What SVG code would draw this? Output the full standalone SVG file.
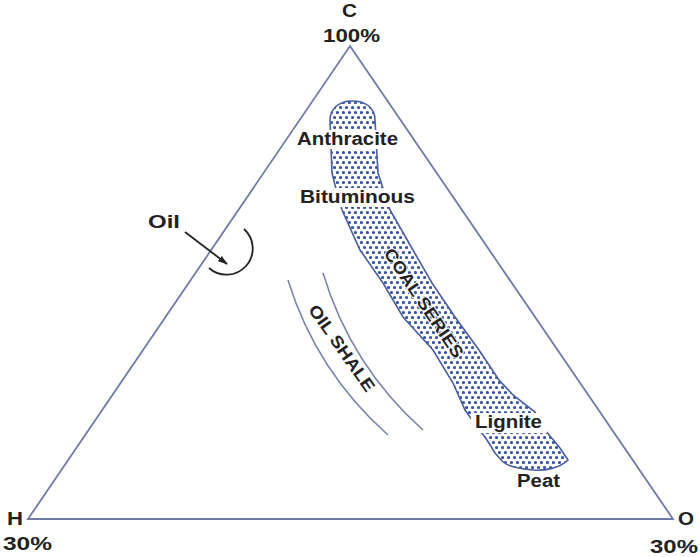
<svg xmlns="http://www.w3.org/2000/svg" width="700" height="557" viewBox="0 0 700 557">
<style>
.lbl{font-family:"Liberation Sans",Arial,sans-serif;font-weight:bold;fill:#222;font-size:18px}
.rot{font-family:"Liberation Sans",Arial,sans-serif;font-weight:bold;fill:#222;font-size:17px;stroke:#fff;stroke-width:2;paint-order:stroke;stroke-linejoin:round}
.edge{fill:none;stroke:#6f7ba6;stroke-width:1.8}
.thin{fill:none;stroke:#7b86ad;stroke-width:1.6}
</style>
<defs>
<pattern id="dots" width="6" height="10" patternUnits="userSpaceOnUse">
<rect width="6" height="10" fill="#fff"/>
<circle cx="1.5" cy="2.5" r="1.6" fill="#3a54a3"/>
<circle cx="4.5" cy="7.5" r="1.6" fill="#3a54a3"/>
</pattern>
<marker id="ah" markerWidth="10" markerHeight="8" refX="9" refY="4" orient="auto" markerUnits="userSpaceOnUse">
<path d="M0,0.8 L10,4 L0,7.2 Z" fill="#222"/>
</marker>
</defs>
<rect width="700" height="557" fill="#fff"/>
<g id="triangle">
<path class="edge" d="M350,46 L673,519 L28,519 Z"/>
</g>
<g id="coal-series">
<path d="M330,120 C330,108 340,101 352,101 C366,101 375,108 375,120 L378,173 L382,185 L390,210 L413,250 L432,283 L455,317 L479,350 L499,380 L513,395 L535,412 L545,430 L560,448 L568,460 C560,468 545,471 533,470 C520,469 508,466 503,462 L495,453 L487,440 L478,428 L465,410 L453,383 L433,350 L403,317 L383,283 L360,250 L342,210 L335,185 L332,173 Z" fill="url(#dots)" stroke="#4a5fa3" stroke-width="1.6"/>
<text class="rot" transform="translate(424,303) rotate(56)" text-anchor="middle" dy="6" textLength="128" lengthAdjust="spacingAndGlyphs">COAL SERIES</text>
</g>
<g id="oil-shale">
<path class="thin" d="M288,280 Q316,371 388,435"/>
<path class="thin" d="M323,273 Q351,366 423,430"/>
<text class="rot" transform="translate(342,348) rotate(55)" text-anchor="middle" dy="6" textLength="102" lengthAdjust="spacingAndGlyphs">OIL SHALE</text>
</g>
<g id="oil">
<path d="M244,229 A25,25 0 1 1 209,268" fill="none" stroke="#222" stroke-width="1.8"/>
<text class="lbl" x="148" y="228" textLength="32" lengthAdjust="spacingAndGlyphs">Oil</text>
</g>
<g id="connectors">
<line x1="185" y1="232" x2="227" y2="264" stroke="#222" stroke-width="1.8" marker-end="url(#ah)"/>
</g>
<g id="labels">
<rect x="293" y="130" width="110" height="19" fill="#fff"/>
<text class="lbl" x="297" y="145" textLength="101" lengthAdjust="spacingAndGlyphs">Anthracite</text>
<rect x="296" y="188" width="122" height="19" fill="#fff"/>
<text class="lbl" x="300" y="203" textLength="115" lengthAdjust="spacingAndGlyphs">Bituminous</text>
<rect x="471" y="413" width="76" height="20" fill="#fff"/>
<text class="lbl" x="475" y="428" textLength="67" lengthAdjust="spacingAndGlyphs">Lignite</text>
<text class="lbl" x="517" y="487" textLength="43" lengthAdjust="spacingAndGlyphs">Peat</text>
<text class="lbl" x="342" y="17" textLength="15" lengthAdjust="spacingAndGlyphs">C</text>
<text class="lbl" x="323" y="42" textLength="57" lengthAdjust="spacingAndGlyphs">100%</text>
<text class="lbl" x="7" y="525" textLength="16" lengthAdjust="spacingAndGlyphs">H</text>
<text class="lbl" x="3" y="550" textLength="49" lengthAdjust="spacingAndGlyphs">30%</text>
<text class="lbl" x="678" y="525" textLength="16" lengthAdjust="spacingAndGlyphs">O</text>
<text class="lbl" x="650" y="553" textLength="48" lengthAdjust="spacingAndGlyphs">30%</text>
</g>
</svg>
